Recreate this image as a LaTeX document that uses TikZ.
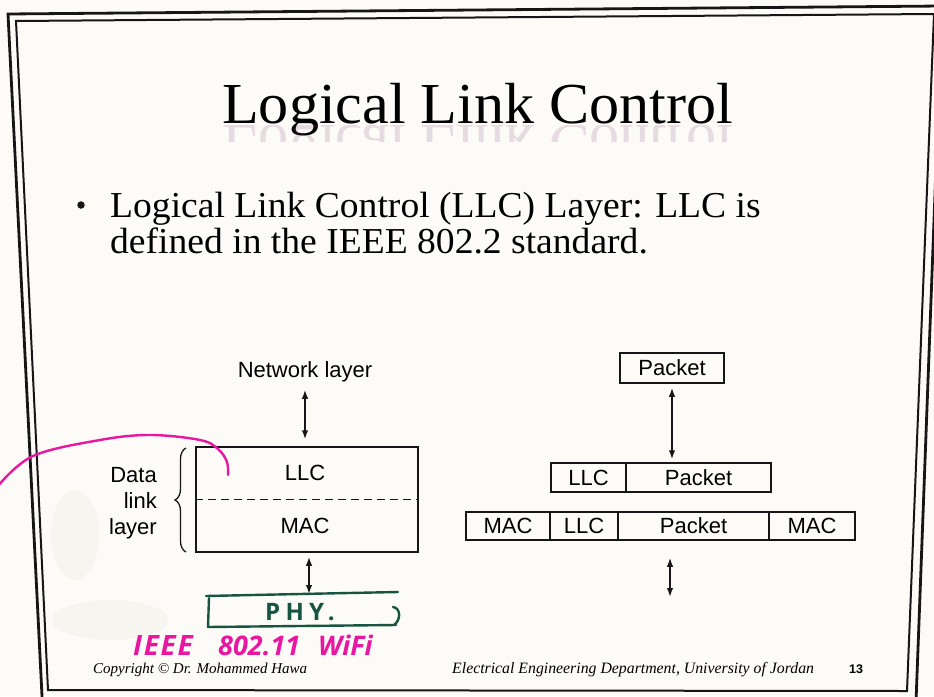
\documentclass[tikz,border=0pt]{standalone}
\usepackage{fontspec}
\setmainfont{Liberation Serif}
\setsansfont{Liberation Sans}
\newfontfamily\markerfont{Open Sans}
\usetikzlibrary{arrows.meta,decorations.pathreplacing}

\definecolor{paper}{RGB}{252,251,247}
\definecolor{ink}{RGB}{22,22,22}
\definecolor{marker}{RGB}{232,22,160}
\definecolor{pengreen}{RGB}{24,84,66}
\definecolor{smudge}{RGB}{226,224,218}

\begin{document}
\begin{tikzpicture}[x=1pt,y=-1pt,
  outerline/.style={draw=ink, line width=2.8pt, line join=miter},
  innerline/.style={draw=ink, line width=2pt, line join=miter},
  cell/.style={draw=ink, line width=1.5pt, inner sep=0pt,
    font=\sffamily\fontsize{22}{26}\selectfont, minimum height=29pt},
  lbl/.style={inner sep=0pt, font=\sffamily\fontsize{22}{26}\selectfont},
  dblarrow/.style={draw=ink, line width=1.5pt,
    {Latex[length=9pt,width=6.5pt]}-{Latex[length=9pt,width=6.5pt]}},
  serifline/.style={anchor=base west, inner sep=0pt},
  handtext/.style={anchor=base west, inner sep=0pt, text=marker},
  greenpen/.style={pengreen, line width=2.4pt, line cap=round, line join=round},
]
\useasboundingbox (0,0) rectangle (934,696);
\fill[paper] (0,0) rectangle (934,696);
\clip (0,0) rectangle (934,696);

% faint print-through on the left margin
\fill[smudge, opacity=0.22] (75,535) ellipse [x radius=24pt, y radius=45pt];
\fill[smudge, opacity=0.22] (110,620) ellipse [x radius=58pt, y radius=20pt];

% double slide frame
\draw[outerline] (8,14) -- (942,6) -- (916,702) -- (42.3,702) -- cycle;
\draw[innerline] (16,21) -- (934,14) -- (907,691) -- (48,690) -- cycle;

% title with its reflection
\node[serifline, font=\fontsize{58}{60}\selectfont] (title) at (222,123)
  {\scalebox{1.037}[1]{Logical Link Control}};
\begin{scope}
  \clip (200,125) rectangle (760,141);
  \node[serifline, font=\fontsize{58}{60}\selectfont, text=violet!40!gray, text opacity=0.18]
    (titlerefl) at (222,125) {\scalebox{1.037}[-1]{Logical Link Control}};
\end{scope}

% bullet point
\node[circle, fill=ink, inner sep=0pt, minimum size=7.5pt] (bullet) at (81,205) {};
\node[serifline, font=\fontsize{36.5}{38}\selectfont] (lineone) at (110,217)
  {\scalebox{1.03}[1]{Logical Link Control (LLC) Layer: LLC is}};
\node[serifline, font=\fontsize{36.5}{38}\selectfont] (linetwo) at (110,253)
  {\scalebox{1.03}[1]{defined in the IEEE 802.2 standard.}};

% left: sublayers of the data link layer
\node[lbl, anchor=base] (net) at (305,377) {Network layer};
\node[draw=ink, line width=1.5pt, inner sep=0pt, minimum width=222pt,
  minimum height=105pt] (dlbox) at (307,499.5) {};
\node[lbl] (llc) at (305,472.5) {LLC};
\node[lbl] (mac) at (305,525.5) {MAC};
\draw[draw=ink, line width=1.3pt, dash pattern=on 8pt off 5pt]
  (dlbox.west) -- (dlbox.east);
\node[lbl, align=right, anchor=east] (dll) at (157,503) {Data\\link\\layer};
\draw[draw=ink, line width=1.3pt, decorate, decoration={brace, amplitude=11pt}]
  (186,552) -- (186,448);
\draw[dblarrow, shorten <=8pt, shorten >=7pt] (net.south) -- (net.south |- dlbox.north);
\coordinate (phyin) at (309,594);
\draw[dblarrow, shorten <=4pt] (phyin |- dlbox.south) -- (phyin);

% right: encapsulation of a packet
\node[cell, minimum width=104pt, minimum height=30pt] (pkt) at (672,368) {Packet};
\node[cell, minimum width=75pt] (rtwollc) at (588.5,477.5) {LLC};
\node[cell, minimum width=145pt] (rtwopkt) at (698.5,477.5) {Packet};
\node[cell, minimum width=84pt, minimum height=28pt] (rthreemaca) at (508,526) {MAC};
\node[cell, minimum width=68pt, minimum height=28pt] (rthreellc) at (584,526) {LLC};
\node[cell, minimum width=151pt, minimum height=28pt] (rthreepkt) at (693.5,526) {Packet};
\node[cell, minimum width=86pt, minimum height=28pt] (rthreemacb) at (812,526) {MAC};
\draw[dblarrow, shorten <=4pt, shorten >=3pt] (pkt.south) -- (pkt.south |- rtwopkt.north);
\coordinate (rbot) at (670,597);
\draw[dblarrow, shorten <=17pt] (rbot |- rthreepkt.south) -- (rbot);

% handwritten notes
\draw[marker, line width=2.4pt, line cap=round]
  plot[smooth, tension=0.6] coordinates
  {(-2,486) (33,456) (100,440) (150,435) (200,440) (218,449) (227,462) (228,475)};
\draw[greenpen] (206,596) -- (300,594) -- (398,592);
\draw[greenpen] (209,598) -- (208,627) -- (300,626) -- (396,625);
\draw[greenpen] (393,607) .. controls (401,608) and (401,620) .. (394,625);
\node[inner sep=0pt, text=pengreen,
  font=\fontsize{24}{24}\markerfont\addfontfeature{LetterSpace=22}\bfseries] (phy) at (300,612) {PHY.};
\node[handtext, font=\fontsize{28}{28}\markerfont\bfseries\itshape\addfontfeature{LetterSpace=6}]
  (ieee) at (133,655) {IEEE};
\node[handtext, font=\fontsize{27}{27}\markerfont\bfseries\itshape] (ieeenum) at (218,655) {802.11};
\node[handtext, font=\fontsize{27}{27}\markerfont\bfseries\itshape] (wifi) at (318,655) {WiFi};

% footer
\node[serifline, font=\itshape\fontsize{15}{15}\selectfont] (copy) at (93,673)
  {Copyright © Dr. Mohammed Hawa};
\node[serifline, font=\itshape\fontsize{15.8}{16}\selectfont] (dept) at (452,673)
  {Electrical Engineering Department, University of Jordan};
\node[serifline, font=\sffamily\bfseries\fontsize{12.5}{13}\selectfont] (pageno) at (849,673) {13};
\end{tikzpicture}
\end{document}
